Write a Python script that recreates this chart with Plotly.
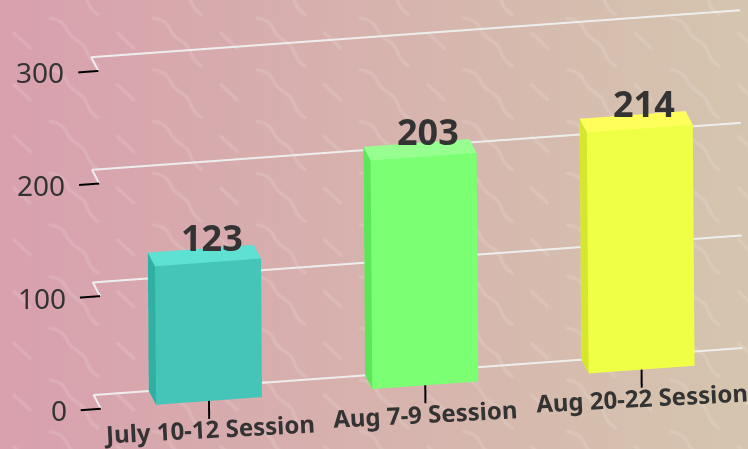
import base64
import plotly.graph_objects as go

# ---- data ----
categories = ["July 10-12 Session", "Aug 7-9 Session", "Aug 20-22 Session"]
values = [123, 203, 214]
y_ticks = [0, 100, 200, 300]
front_colors = ["#45c4b8", "#7bff73", "#eeff46"]
top_colors = ["#5ee0d2", "#96ff90", "#ffff5c"]
side_colors = ["#2fb0a3", "#5ee65a", "#d6e62e"]

BAR_HALF = 0.245
X_RANGE = [-0.9, 2.9]
Y_RANGE = [-0.2, 1.2]
Z_RANGE = [-40, 340]
X_LOW, X_HIGH = -0.5, 2.5
TICK_X = 0.093
TICK_Z = 16
TEXT = "#333333"
FONT = "'Noto Sans', 'Open Sans', sans-serif"

svg = """<svg xmlns='http://www.w3.org/2000/svg' width='748' height='449'>
<defs><linearGradient id='g' x1='0' x2='1' y1='0' y2='0'>
<stop offset='0' stop-color='#d8a0ad'/><stop offset='1' stop-color='#d5c5ae'/></linearGradient>
<pattern id='p' width='103.5' height='51.7' patternUnits='userSpaceOnUse'>
<g fill='none' stroke='#ffffff' stroke-opacity='0.12' stroke-width='3.4' stroke-linecap='round'>
<path d='M50 18 C58 19 64 22 67 30 C70 38 78 40 83 45 C88 50 87 60 98 66'/>
<path d='M50 -33.7 C58 -32.7 64 -29.7 67 -21.7 C70 -13.7 78 -11.7 83 -6.7 C88 -1.7 87 8.3 98 14.3'/>
<path d='M14 33 L30 48'/></g></pattern></defs>
<rect width='748' height='449' fill='url(#g)'/><rect width='748' height='449' fill='url(#p)'/></svg>"""
bg = "data:image/svg+xml;base64," + base64.b64encode(svg.encode()).decode()

fig = go.Figure()

for v in y_ticks:
    fig.add_trace(go.Scatter3d(x=[X_HIGH, X_LOW, X_LOW], y=[1, 1, 0], z=[v, v, v], mode="lines",
                               line=dict(color="#eeeeee", width=4), hoverinfo="skip", showlegend=False))
    fig.add_trace(go.Scatter3d(x=[X_LOW, X_LOW - TICK_X], y=[0, 0], z=[v, v], mode="lines",
                               line=dict(color="#000000", width=4), hoverinfo="skip", showlegend=False))

annotations = []
for v in y_ticks:
    annotations.append(dict(x=X_LOW - TICK_X, y=0, z=v, text=str(v), showarrow=False, xanchor="right",
                            yanchor="middle", xshift=-12, yshift=0, font=dict(family=FONT, size=28, color=TEXT)))

for k, (name, val) in enumerate(zip(categories, values)):
    x0, x1 = k - BAR_HALF, k + BAR_HALF
    xs = [x0, x1, x1, x0, x0, x1, x1, x0]
    ys = [0, 0, 1, 1, 0, 0, 1, 1]
    zs = [0, 0, 0, 0, val, val, val, val]
    i = [0, 0, 4, 4, 0, 0, 3, 3, 1, 1, 2, 2]
    j = [1, 2, 5, 6, 1, 5, 0, 4, 2, 6, 3, 7]
    l = [2, 3, 6, 7, 5, 4, 4, 7, 6, 5, 7, 6]
    f = front_colors[k]; t = top_colors[k]; s = side_colors[k]
    fc = [f, f, t, t, f, f, s, s, f, f, f, f]
    fig.add_trace(go.Mesh3d(x=xs, y=ys, z=zs, i=i, j=j, k=l, facecolor=fc, flatshading=True,
                            lighting=dict(ambient=1, diffuse=0, specular=0, fresnel=0, roughness=1),
                            hoverinfo="skip", showscale=False))
    fig.add_trace(go.Scatter3d(x=[k, k], y=[0, 0], z=[0, -TICK_Z], mode="lines",
                               line=dict(color="#000000", width=4), hoverinfo="skip", showlegend=False))
    annotations.append(dict(x=k, y=0, z=val, text=f"<b>{val}</b>", showarrow=False, yanchor="middle", xshift=4,
                            yshift=25, font=dict(family=FONT, size=36, color=TEXT)))
    annotations.append(dict(x=k, y=0, z=-TICK_Z, text=f"<b>{name}</b>", showarrow=False, yanchor="middle",
                            yshift=-10, textangle=-3, font=dict(family=FONT, size=24, color=TEXT)))

hidden = dict(visible=False, showgrid=False, zeroline=False, showbackground=False, showspikes=False)
fig.update_layout(
    width=748, height=449, margin=dict(l=0, r=0, t=0, b=0), showlegend=False,
    paper_bgcolor="rgba(0,0,0,0)", plot_bgcolor="rgba(0,0,0,0)",
    images=[dict(source=bg, xref="paper", yref="paper", x=0, y=1, sizex=1, sizey=1, sizing="stretch", layer="below")],
    scene=dict(
        domain=dict(x=[0, 1], y=[0, 1]), bgcolor="rgba(0,0,0,0)", dragmode="orbit",
        xaxis=dict(range=X_RANGE, **hidden), yaxis=dict(range=Y_RANGE, **hidden), zaxis=dict(range=Z_RANGE, **hidden),
        aspectmode="manual", aspectratio=dict(x=3.724, y=0.2457, z=2.039),
        camera=dict(projection=dict(type="orthographic"),
                    eye=dict(x=-0.6348, y=-2.3115, z=0.8378),
                    center=dict(x=-0.2082, y=0.0146, z=-0.0611),
                    up=dict(x=0.0712, y=0.3482, z=0.9348)),
        annotations=annotations,
    ),
)
fig.write_html("out.html", config=dict(displayModeBar=False),
               post_script="document.body.style.margin='0';document.body.style.overflow='hidden';")
